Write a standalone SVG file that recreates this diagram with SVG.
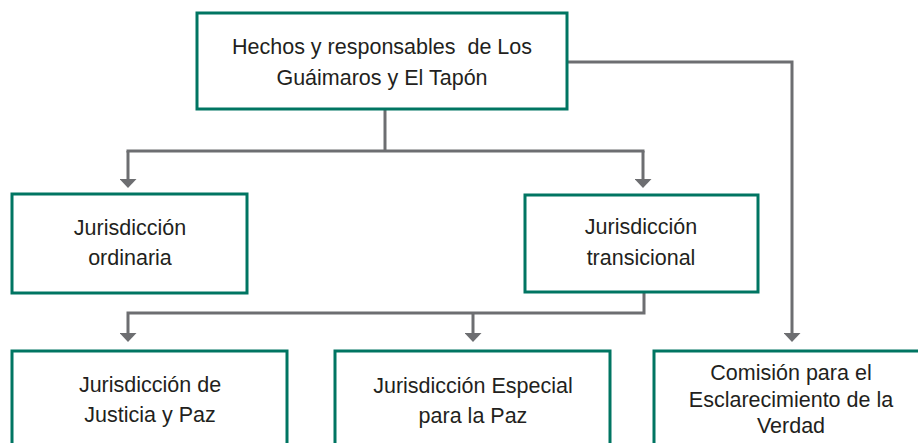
<svg xmlns="http://www.w3.org/2000/svg" width="918" height="443" viewBox="0 0 918 443">
<style>
.box{fill:#ffffff;stroke:#007562;stroke-width:3}
.lbl{font-family:"Liberation Sans",Arial,sans-serif;font-size:21.5px;fill:#231f20;text-anchor:middle;white-space:pre}
.conn{fill:none;stroke:#6d6e71;stroke-width:3}
</style>
<defs>
<marker id="arr" markerUnits="userSpaceOnUse" markerWidth="9" markerHeight="17" viewBox="0 0 9 17" refX="0" refY="8.5" orient="auto">
<path d="M0,0 L9,8.5 L0,17 z" fill="#6d6e71"/>
</marker>
</defs>
<rect width="918" height="443" fill="#ffffff"/>
<g id="connectors">
<path class="conn" d="M385,109 V151"/>
<path class="conn" d="M126.5,151 H644.5"/>
<path class="conn" d="M128,151 V179" marker-end="url(#arr)"/>
<path class="conn" d="M643,151 V179" marker-end="url(#arr)"/>
<path class="conn" d="M567,62 H792 V333" marker-end="url(#arr)"/>
<path class="conn" d="M644,292 V313 H128 V333" marker-end="url(#arr)"/>
<path class="conn" d="M473,313 V333" marker-end="url(#arr)"/>
</g>
<g id="n-hechos">
<rect class="box" x="197" y="13" width="370" height="96"/>
<text class="lbl" x="382" y="54" xml:space="preserve">Hechos y responsables  de Los</text>
<text class="lbl" x="382" y="85">Guáimaros y El Tapón</text>
</g>
<g id="n-ordinaria">
<rect class="box" x="12" y="194" width="235" height="99"/>
<text class="lbl" x="130" y="235">Jurisdicción</text>
<text class="lbl" x="130" y="265">ordinaria</text>
</g>
<g id="n-transicional">
<rect class="box" x="525" y="195" width="233" height="97"/>
<text class="lbl" x="641" y="234">Jurisdicción</text>
<text class="lbl" x="641" y="265">transicional</text>
</g>
<g id="n-justicia">
<rect class="box" x="12" y="351" width="275" height="110"/>
<text class="lbl" x="150" y="392">Jurisdicción de</text>
<text class="lbl" x="150" y="422">Justicia y Paz</text>
</g>
<g id="n-jep">
<rect class="box" x="335" y="351" width="275" height="110"/>
<text class="lbl" x="473" y="393">Jurisdicción Especial</text>
<text class="lbl" x="473" y="423">para la Paz</text>
</g>
<g id="n-comision">
<rect class="box" x="654" y="351" width="280" height="110"/>
<text class="lbl" x="791" y="380">Comisión para el</text>
<text class="lbl" x="791" y="407">Esclarecimiento de la</text>
<text class="lbl" x="791" y="433">Verdad</text>
</g>
</svg>
